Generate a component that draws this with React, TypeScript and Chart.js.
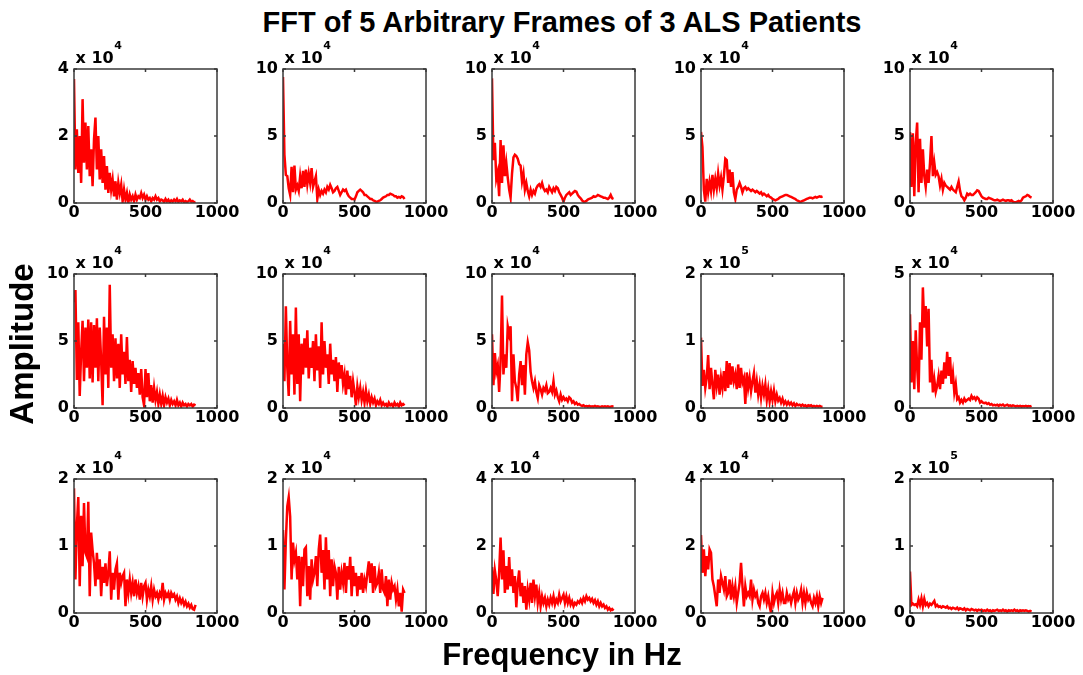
import React, { useEffect, useRef } from "react";
import { Chart, registerables } from "chart.js";

Chart.register(...registerables);

// ---------- text ----------
const TITLE = "FFT of 5 Arbitrary Frames of 3 ALS Patients";
const X_LABEL = "Frequency in Hz";
const Y_LABEL = "Amplitude";

// ---------- frequency bins (Hz) ----------
const FREQ_HZ = [
  0, 10, 20, 30, 40, 50, 60, 70, 80, 90,
  100, 110, 120, 130, 140, 150, 160, 170, 180, 190,
  200, 210, 220, 230, 240, 250, 260, 270, 280, 290,
  300, 310, 320, 330, 340, 350, 360, 370, 380, 390,
  400, 410, 420, 430, 440, 450, 460, 470, 480, 490,
  500, 510, 520, 530, 540, 550, 560, 570, 580, 590,
  600, 610, 620, 630, 640, 650, 660, 670, 680, 690,
  700, 710, 720, 730, 740, 750, 760, 770, 780, 790,
  800, 810, 820, 830, 840, 850,
];

// ---------- amplitudes (in units of the panel's x 10^n multiplier) ----------
// Patient 1 (row 1)
const ampR1C1 = [
  3.7, 1.0, 2.2, 0.9, 2.0, 0.6, 3.1, 1.2, 2.4, 1.0,
  2.3, 0.8, 1.6, 0.5, 1.9, 2.55, 1.0, 2.0, 0.7, 1.6,
  0.6, 1.4, 0.4, 1.1, 0.3, 0.9, 0.4, 0.7, 0.2, 0.65,
  0.1, 0.6, 0.3, 0.55, 0.05, 0.4, 0.1, 0.3, 0.0, 0.25,
  0.1, 0.2, 0.05, 0.25, 0.1, 0.2, 0.15, 0.3, 0.15, 0.25,
  0.1, 0.2, 0.1, 0.15, 0.05, 0.15, 0.1, 0.2, 0.1, 0.15,
  0.05, 0.1, 0.08, 0.03, 0.12, 0.05, 0.1, 0.02, 0.08, 0.04,
  0.1, 0.05, 0.12, 0.03, 0.08, 0.05, 0.1, 0.02, 0.06, 0.03,
  0.05, 0.1, 0.04, 0.06, 0.02, 0.03,
];
const ampR1C2 = [
  9.4, 3.6, 2.1, 2.0, 1.1, 0.6, 2.7, 0.8, 2.8, 1.0,
  1.3, 0.9, 2.0, 1.1, 2.4, 1.2, 2.5, 1.4, 2.2, 1.5,
  2.6, 1.2, 1.6, 2.0, 0.3, 1.0, 0.6, 0.9, 0.7, 1.0,
  0.8, 1.2, 1.0, 1.35, 1.1, 0.8, 0.9, 1.1, 1.2, 0.9,
  0.6, 0.8, 1.0, 0.9, 1.0, 0.7, 0.5, 0.4, 0.3, 0.3,
  0.25, 0.5, 0.8, 0.9, 1.0, 0.9, 0.8, 0.6, 0.6, 0.5,
  0.4, 0.3, 0.3, 0.2, 0.15, 0.1, 0.1, 0.15, 0.2, 0.3,
  0.4, 0.45, 0.5, 0.6, 0.6, 0.7, 0.65, 0.6, 0.5, 0.5,
  0.4, 0.45, 0.4, 0.5, 0.45, 0.3,
];
const ampR1C3 = [
  9.3, 3.2, 4.5, 1.8, 2.3, 0.5, 4.7, 1.5, 4.3, 2.0,
  3.0, 1.9, 1.0, 0.4, 2.2, 3.4, 3.6, 3.5, 3.3, 2.9,
  2.8, 1.6, 2.2, 1.0, 1.5, 0.9, 0.5, 1.0, 0.6, 0.9,
  0.7, 1.1, 1.3, 1.4, 1.2, 1.5, 1.1, 0.9, 1.0, 0.8,
  1.2, 1.0, 0.8, 1.1, 0.9, 1.2, 1.1, 0.8, 0.6, 0.4,
  0.1, 0.4, 0.6, 0.7, 0.8, 0.6, 0.7, 0.8, 0.9, 0.85,
  0.6, 0.45, 0.35, 0.2, 0.1, 0.1, 0.15, 0.25, 0.3, 0.35,
  0.4, 0.5, 0.45, 0.5, 0.6, 0.55, 0.5, 0.45, 0.4, 0.4,
  0.35, 0.3, 0.4, 0.6, 0.35, 0.3,
];
const ampR1C4 = [
  5.3, 4.2, 1.0, 0.1, 1.8, 0.8, 1.6, 0.9, 2.1, 1.0,
  1.8, 1.1, 2.2, 1.3, 1.9, 1.0, 2.0, 3.3, 3.2, 1.5,
  2.5, 1.2, 2.3, 0.8, 0.3, 1.0, 1.2, 1.5, 1.2, 0.8,
  1.1, 1.2, 1.0, 1.1, 1.0, 0.9, 1.0, 0.9, 0.8, 0.9,
  0.8, 0.7, 0.8, 0.6, 0.7, 0.6, 0.5, 0.6, 0.45, 0.4,
  0.3, 0.25, 0.2, 0.25, 0.3, 0.4, 0.45, 0.5, 0.55, 0.6,
  0.6, 0.55, 0.5, 0.45, 0.4, 0.35, 0.3, 0.2, 0.15, 0.1,
  0.1, 0.15, 0.2, 0.25, 0.3, 0.35, 0.4, 0.4, 0.35, 0.4,
  0.45, 0.4, 0.45, 0.5, 0.45, 0.5,
];
const ampR1C5 = [
  5.3, 1.2, 5.2, 0.5, 4.5, 6.0, 0.8, 4.8, 1.5, 4.0,
  2.0, 1.2, 2.5, 1.5, 3.0, 5.0, 2.0, 3.0, 2.1, 2.3,
  2.0, 1.3, 1.8, 1.0, 1.5, 1.3, 1.2, 1.1, 1.0, 1.2,
  1.0, 0.9, 0.8, 1.2, 1.6, 0.9, 0.5, 0.4, 0.2, 0.4,
  0.7, 0.6, 0.7, 0.6, 0.6, 0.7, 0.8, 0.95, 0.9, 0.7,
  0.5, 0.4, 0.35, 0.3, 0.3, 0.4, 0.35, 0.3, 0.25, 0.2,
  0.2, 0.25, 0.2, 0.15, 0.2, 0.25, 0.2, 0.15, 0.2, 0.2,
  0.15, 0.2, 0.1, 0.05, 0.05, 0.1, 0.15, 0.1, 0.2, 0.4,
  0.45, 0.5, 0.6, 0.55, 0.45, 0.4,
];

// Patient 2 (row 2)
const ampR2C1 = [
  7.9, 8.8, 2.1, 6.4, 0.9, 4.2, 6.5, 2.0, 6.0, 3.0,
  6.6, 2.2, 6.4, 1.9, 6.2, 3.0, 6.7, 2.0, 6.0, 3.5,
  0.2, 6.8, 2.5, 6.0, 1.5, 9.2, 3.0, 5.5, 2.0, 5.2,
  2.2, 4.8, 1.5, 5.5, 2.5, 4.2, 1.8, 5.3, 2.0, 3.6,
  1.2, 3.5, 1.8, 3.0, 1.5, 2.6, 1.0, 2.9, 0.8, 0.2,
  2.9, 0.8, 2.6, 0.5, 1.7, 0.4, 1.5, 0.6, 1.2, 0.3,
  1.0, 0.3, 0.9, 0.2, 0.8, 0.4, 0.7, 0.2, 0.6, 0.3,
  0.5, 0.2, 0.6, 0.2, 0.4, 0.1, 0.4, 0.2, 0.3, 0.1,
  0.3, 0.2, 0.3, 0.1, 0.25, 0.2,
];
const ampR2C2 = [
  4.8, 2.0, 7.6, 3.0, 0.9, 6.5, 2.5, 5.5, 1.0, 7.5,
  1.8, 5.5, 0.5, 4.8, 2.5, 5.2, 3.0, 5.8, 2.2, 4.5,
  3.0, 5.0, 2.0, 5.5, 2.8, 4.6, 1.5, 6.4, 2.5, 5.0,
  3.0, 4.0, 1.8, 4.8, 2.5, 3.6, 2.0, 3.8, 1.2, 3.4,
  2.2, 3.2, 1.8, 2.5, 1.0, 2.8, 1.4, 2.4, 0.8, 2.0,
  1.2, 0.2, 1.6, 0.8, 1.5, 0.6, 1.2, 0.4, 1.3, 0.5,
  1.0, 0.3, 0.8, 0.4, 0.7, 0.2, 0.5, 0.3, 0.6, 0.2,
  0.4, 0.2, 0.3, 0.1, 0.4, 0.2, 0.3, 0.1, 0.4, 0.2,
  0.3, 0.1, 0.4, 0.2, 0.3, 0.2,
];
const ampR2C3 = [
  5.5, 1.7, 4.1, 2.7, 3.2, 1.2, 3.5, 8.4, 2.5, 4.0,
  3.0, 6.1, 5.5, 6.1, 0.5, 4.0, 2.0, 1.5, 0.5, 2.5,
  3.5, 1.7, 3.2, 1.0, 4.0, 4.9, 4.3, 2.7, 2.0, 1.5,
  2.0, 1.2, 0.75, 1.7, 1.4, 1.0, 1.5, 1.3, 1.7, 1.1,
  1.2, 1.5, 1.2, 2.0, 1.0, 1.3, 0.8, 0.5, 1.0, 0.6,
  0.8, 0.6, 0.7, 0.5, 0.8, 0.7, 0.4, 0.5, 0.3, 0.4,
  0.25, 0.3, 0.2, 0.15, 0.2, 0.12, 0.15, 0.1, 0.15, 0.1,
  0.12, 0.1, 0.15, 0.1, 0.12, 0.1, 0.08, 0.12, 0.1, 0.12,
  0.1, 0.12, 0.08, 0.1, 0.12, 0.1,
];
const ampR2C4 = [
  1.05, 0.33, 0.57, 0.3, 0.45, 0.79, 0.28, 0.6, 0.35, 0.13,
  0.57, 0.33, 0.5, 0.2, 0.45, 0.3, 0.55, 0.25, 0.7, 0.3,
  0.67, 0.35, 0.62, 0.4, 0.5, 0.28, 0.65, 0.3, 0.6, 0.38,
  0.45, 0.06, 0.53, 0.3, 0.45, 0.25, 0.4, 0.52, 0.23, 0.4,
  0.2, 0.35, 0.15, 0.33, 0.2, 0.35, 0.12, 0.28, 0.1, 0.25,
  0.12, 0.26, 0.1, 0.2, 0.11, 0.15, 0.08, 0.14, 0.06, 0.1,
  0.05, 0.09, 0.05, 0.08, 0.04, 0.07, 0.03, 0.06, 0.04, 0.05,
  0.03, 0.05, 0.03, 0.04, 0.02, 0.04, 0.03, 0.04, 0.02, 0.03,
  0.02, 0.03, 0.02, 0.03, 0.02, 0.02,
];
const ampR2C5 = [
  3.5, 0.95, 2.5, 0.7, 2.9, 1.5, 0.58, 3.2, 1.8, 4.5,
  3.0, 3.8, 2.3, 3.7, 0.95, 1.8, 0.58, 1.07, 0.6, 0.82,
  1.2, 0.7, 1.4, 0.9, 1.7, 1.1, 2.1, 1.2, 1.9, 0.9,
  1.3, 0.58, 0.9, 0.33, 0.4, 0.2, 0.3, 0.2, 0.35, 0.25,
  0.3, 0.35, 0.3, 0.45, 0.35, 0.4, 0.3, 0.4, 0.35, 0.2,
  0.25, 0.2, 0.18, 0.2, 0.15, 0.18, 0.12, 0.15, 0.1, 0.12,
  0.1, 0.12, 0.08, 0.12, 0.1, 0.13, 0.08, 0.1, 0.12, 0.08,
  0.1, 0.07, 0.1, 0.08, 0.06, 0.08, 0.06, 0.08, 0.05, 0.07,
  0.06, 0.08, 0.05, 0.07, 0.06, 0.08,
];

// Patient 3 (row 3)
const ampR3C1 = [
  1.86, 0.5, 1.3, 1.73, 0.4, 1.45, 0.7, 1.64, 0.9, 0.84,
  1.66, 0.25, 1.2, 0.94, 0.74, 0.4, 0.9, 0.5, 0.8, 0.25,
  0.69, 0.45, 0.74, 0.4, 0.6, 0.92, 0.2, 0.6, 0.35, 0.65,
  0.74, 0.2, 0.6, 0.45, 0.55, 0.6, 0.1, 0.5, 0.3, 0.5,
  0.3, 0.45, 0.25, 0.5, 0.3, 0.4, 0.2, 0.45, 0.25, 0.4,
  0.45, 0.2, 0.35, 0.25, 0.4, 0.2, 0.35, 0.25, 0.3, 0.2,
  0.3, 0.25, 0.45, 0.2, 0.3, 0.25, 0.3, 0.2, 0.3, 0.25,
  0.28, 0.2, 0.25, 0.15, 0.22, 0.15, 0.2, 0.12, 0.17, 0.1,
  0.14, 0.08, 0.12, 0.06, 0.05, 0.12,
];
const ampR3C2 = [
  1.24, 0.35, 1.09, 1.59, 1.73, 1.44, 0.5, 1.05, 0.79, 0.9,
  0.5, 0.85, 0.1, 0.84, 0.4, 0.95, 0.98, 0.25, 0.7, 0.2,
  0.8, 0.5, 0.6, 0.85, 0.4, 0.95, 1.17, 0.6, 0.94, 0.35,
  1.13, 0.5, 0.94, 0.25, 0.8, 0.4, 0.7, 0.6, 0.2, 0.69,
  0.35, 0.6, 0.45, 0.75, 0.3, 0.7, 0.5, 0.84, 0.25, 0.7,
  0.4, 0.6, 0.25, 0.55, 0.35, 0.6, 0.3, 0.5, 0.4, 0.6,
  0.77, 0.45, 0.74, 0.3, 0.7, 0.4, 0.45, 0.6, 0.3, 0.65,
  0.35, 0.3, 0.55, 0.1, 0.5, 0.2, 0.45, 0.35, 0.4, 0.2,
  0.35, 0.1, 0.3, 0.02, 0.35, 0.3,
];
const ampR3C3 = [
  1.37, 0.57, 1.27, 0.97, 0.5, 1.2, 2.25, 1.0, 1.87, 0.6,
  1.4, 0.7, 1.67, 0.8, 1.3, 0.6, 1.1, 0.17, 0.9, 1.27,
  0.5, 0.9, 0.3, 0.8, 0.1, 0.7, 0.4, 0.9, 0.3, 1.0,
  0.5, 0.85, 0.3, 0.6, 0.2, 0.5, 0.3, 0.45, 0.2, 0.4,
  0.25, 0.45, 0.3, 0.5, 0.25, 0.4, 0.3, 0.55, 0.35, 0.45,
  0.55, 0.3, 0.5, 0.3, 0.45, 0.25, 0.35, 0.2, 0.3, 0.25,
  0.35, 0.3, 0.4, 0.3, 0.45, 0.35, 0.5, 0.4, 0.45, 0.35,
  0.42, 0.3, 0.38, 0.25, 0.35, 0.2, 0.3, 0.2, 0.25, 0.15,
  0.2, 0.1, 0.15, 0.08, 0.12, 0.07,
];
const ampR3C4 = [
  2.33, 1.2, 1.9, 1.1, 1.7, 1.3, 1.9, 1.8, 1.0, 0.8,
  0.5, 0.2, 1.0, 0.6, 1.1, 0.9, 0.7, 1.1, 0.5, 0.6,
  1.0, 0.4, 0.8, 0.5, 0.8, 0.3, 0.6, 0.9, 1.5, 0.8,
  0.2, 0.8, 0.5, 0.6, 0.5, 1.0, 0.4, 0.7, 0.5, 0.6,
  0.3, 0.2, 0.5, 0.6, 0.4, 0.6, 0.3, 0.5, 0.2, 0.0,
  0.6, 0.3, 0.5, 0.6, 0.3, 0.7, 0.4, 0.6, 0.3, 0.3,
  0.6, 0.4, 0.5, 0.3, 0.5, 0.65, 0.3, 0.6, 0.4, 0.5,
  0.7, 0.3, 0.6, 0.3, 0.6, 0.4, 0.5, 0.3, 0.2, 0.45,
  0.3, 0.5, 0.2, 0.5, 0.3, 0.45,
];
const ampR3C5 = [
  0.62, 0.12, 0.14, 0.12, 0.13, 0.1, 0.2, 0.12, 0.22, 0.1,
  0.21, 0.12, 0.15, 0.1, 0.14, 0.12, 0.15, 0.18, 0.1, 0.12,
  0.09, 0.1, 0.08, 0.1, 0.09, 0.08, 0.1, 0.07, 0.08, 0.06,
  0.08, 0.07, 0.06, 0.08, 0.05, 0.07, 0.06, 0.05, 0.07, 0.04,
  0.06, 0.05, 0.04, 0.06, 0.05, 0.04, 0.05, 0.03, 0.05, 0.04,
  0.05, 0.03, 0.04, 0.03, 0.05, 0.03, 0.04, 0.02, 0.04, 0.03,
  0.04, 0.05, 0.03, 0.04, 0.03, 0.05, 0.03, 0.04, 0.02, 0.04,
  0.03, 0.04, 0.03, 0.05, 0.03, 0.04, 0.02, 0.04, 0.03, 0.04,
  0.03, 0.04, 0.03, 0.02, 0.03, 0.02,
];

const PANEL_SERIES = [
  [ampR1C1, ampR1C2, ampR1C3, ampR1C4, ampR1C5],
  [ampR2C1, ampR2C2, ampR2C3, ampR2C4, ampR2C5],
  [ampR3C1, ampR3C2, ampR3C3, ampR3C4, ampR3C5],
];

// axis limits, tick labels, multiplier exponents
const Y_MAX = [
  [4, 10, 10, 10, 10],
  [10, 10, 10, 2, 5],
  [2, 2, 4, 4, 2],
];
const Y_TICKS = [
  [[0, 2, 4], [0, 5, 10], [0, 5, 10], [0, 5, 10], [0, 5, 10]],
  [[0, 5, 10], [0, 5, 10], [0, 5, 10], [0, 1, 2], [0, 5]],
  [[0, 1, 2], [0, 1, 2], [0, 2, 4], [0, 2, 4], [0, 1, 2]],
];
const EXPONENT = [
  [4, 4, 4, 4, 4],
  [4, 4, 4, 5, 4],
  [4, 4, 4, 4, 5],
];
const X_MAX = 1000;
const X_TICKS = [0, 500, 1000];

// ---------- layout (pixels) ----------
const BOX_LEFT = [74, 283, 492, 701, 910];
const BOX_TOP = [69, 274, 479];
const BOX_W = 143;
const BOX_H = 134;
const PAD_L = 60;
const PAD_T = 36;
const PAD_R = 30;
const PAD_B = 26;

const TICK_FAMILY = "'DejaVu Sans', 'Liberation Sans', sans-serif";
const LABEL_FAMILY = "'Liberation Sans', Arial, Helvetica, sans-serif";

function Panel({ row, col }: { row: number; col: number }) {
  const ref = useRef<HTMLCanvasElement | null>(null);

  useEffect(() => {
    const canvas = ref.current;
    if (!canvas) return;
    const values = PANEL_SERIES[row][col];
    const yTicks = Y_TICKS[row][col];
    const exponent = EXPONENT[row][col];

    const boxPlugin = {
      id: "matlabBox",
      afterDraw(chart: any) {
        const { ctx, chartArea: a } = chart;
        const xs = chart.scales.x;
        const ys = chart.scales.y;
        ctx.save();
        ctx.strokeStyle = "#3a3a3a";
        ctx.lineWidth = 1.5;
        ctx.strokeRect(a.left, a.top, a.right - a.left, a.bottom - a.top);
        const L = 3;
        ctx.beginPath();
        X_TICKS.forEach((v) => {
          const px = xs.getPixelForValue(v);
          ctx.moveTo(px, a.bottom);
          ctx.lineTo(px, a.bottom - L);
          ctx.moveTo(px, a.top);
          ctx.lineTo(px, a.top + L);
        });
        yTicks.forEach((v) => {
          const py = ys.getPixelForValue(v);
          ctx.moveTo(a.left, py);
          ctx.lineTo(a.left + L, py);
          ctx.moveTo(a.right, py);
          ctx.lineTo(a.right - L, py);
        });
        ctx.stroke();

        // multiplier label "x 10^n"
        ctx.fillStyle = "#000000";
        ctx.textAlign = "left";
        ctx.textBaseline = "alphabetic";
        ctx.font = `bold 16px ${TICK_FAMILY}`;
        const base = "x 10";
        const bx = a.left + 1.5;
        const by = a.top - 6.5;
        ctx.fillText(base, bx, by);
        const w = ctx.measureText(base).width;
        ctx.font = `bold 11px ${TICK_FAMILY}`;
        ctx.fillText(String(exponent), bx + w + 0.5, by - 13.5);
        ctx.restore();
      },
    };

    const tickFont = { family: TICK_FAMILY, size: 16, weight: "bold" as const };

    const chart = new Chart(canvas, {
      type: "line",
      data: {
        datasets: [
          {
            data: FREQ_HZ.map((f, i) => ({ x: f, y: values[i] })),
            borderColor: "#ff0000",
            borderWidth: 2.5,
            pointRadius: 0,
            tension: 0,
            fill: false,
          },
        ],
      },
      options: {
        animation: false,
        responsive: false,
        devicePixelRatio: 1,
        layout: { padding: { top: PAD_T, right: PAD_R, left: 0, bottom: 0 } },
        plugins: {
          legend: { display: false },
          tooltip: { enabled: false },
          title: { display: false },
        },
        scales: {
          x: {
            type: "linear",
            min: 0,
            max: X_MAX,
            grid: { display: false, drawTicks: false },
            border: { display: false },
            ticks: {
              font: tickFont,
              color: "#000000",
              padding: 0,
              maxRotation: 0,
              autoSkip: false,
              callback: (v: any) => String(v),
            },
            afterBuildTicks: (s: any) => {
              s.ticks = X_TICKS.map((v) => ({ value: v }));
            },
            afterFit: (s: any) => {
              s.height = PAD_B;
            },
          },
          y: {
            type: "linear",
            min: 0,
            max: Y_MAX[row][col],
            grid: { display: false, drawTicks: false },
            border: { display: false },
            ticks: {
              font: tickFont,
              color: "#000000",
              padding: 5,
              autoSkip: false,
              callback: (v: any) => String(v),
            },
            afterBuildTicks: (s: any) => {
              s.ticks = yTicks.map((v) => ({ value: v }));
            },
            afterFit: (s: any) => {
              s.width = PAD_L;
            },
          },
        },
      } as any,
      plugins: [boxPlugin],
    });
    return () => chart.destroy();
  }, [row, col]);

  const w = PAD_L + BOX_W + PAD_R;
  const h = PAD_T + BOX_H + PAD_B;
  return (
    <canvas
      ref={ref}
      width={w}
      height={h}
      style={{
        position: "absolute",
        left: BOX_LEFT[col] - PAD_L,
        top: BOX_TOP[row] - PAD_T,
        width: w,
        height: h,
      }}
    />
  );
}

export default function App() {
  const panels: any[] = [];
  for (let r = 0; r < 3; r++) {
    for (let c = 0; c < 5; c++) {
      panels.push(<Panel key={`${r}-${c}`} row={r} col={c} />);
    }
  }
  return (
    <div
      style={{
        position: "absolute",
        left: 0,
        top: 0,
        width: 1083,
        height: 675,
        overflow: "hidden",
        background: "#ffffff",
      }}
    >
      <div
        style={{
          position: "absolute",
          left: 212,
          top: 8,
          width: 700,
          textAlign: "center",
          font: `bold 29px ${LABEL_FAMILY}`,
          lineHeight: "29px",
          color: "#000",
          whiteSpace: "nowrap",
        }}
      >
        {TITLE}
      </div>
      {panels}
      <div
        style={{
          position: "absolute",
          left: 312,
          top: 639,
          width: 500,
          textAlign: "center",
          font: `bold 31px ${LABEL_FAMILY}`,
          lineHeight: "31px",
          color: "#000",
          whiteSpace: "nowrap",
        }}
      >
        {X_LABEL}
      </div>
      <div
        style={{
          position: "absolute",
          left: 23 - 110,
          top: 344 - 20,
          width: 220,
          height: 40,
          lineHeight: "40px",
          textAlign: "center",
          font: `bold 33px ${LABEL_FAMILY}`,
          color: "#000",
          whiteSpace: "nowrap",
          transform: "rotate(-90deg)",
        }}
      >
        {Y_LABEL}
      </div>
    </div>
  );
}
